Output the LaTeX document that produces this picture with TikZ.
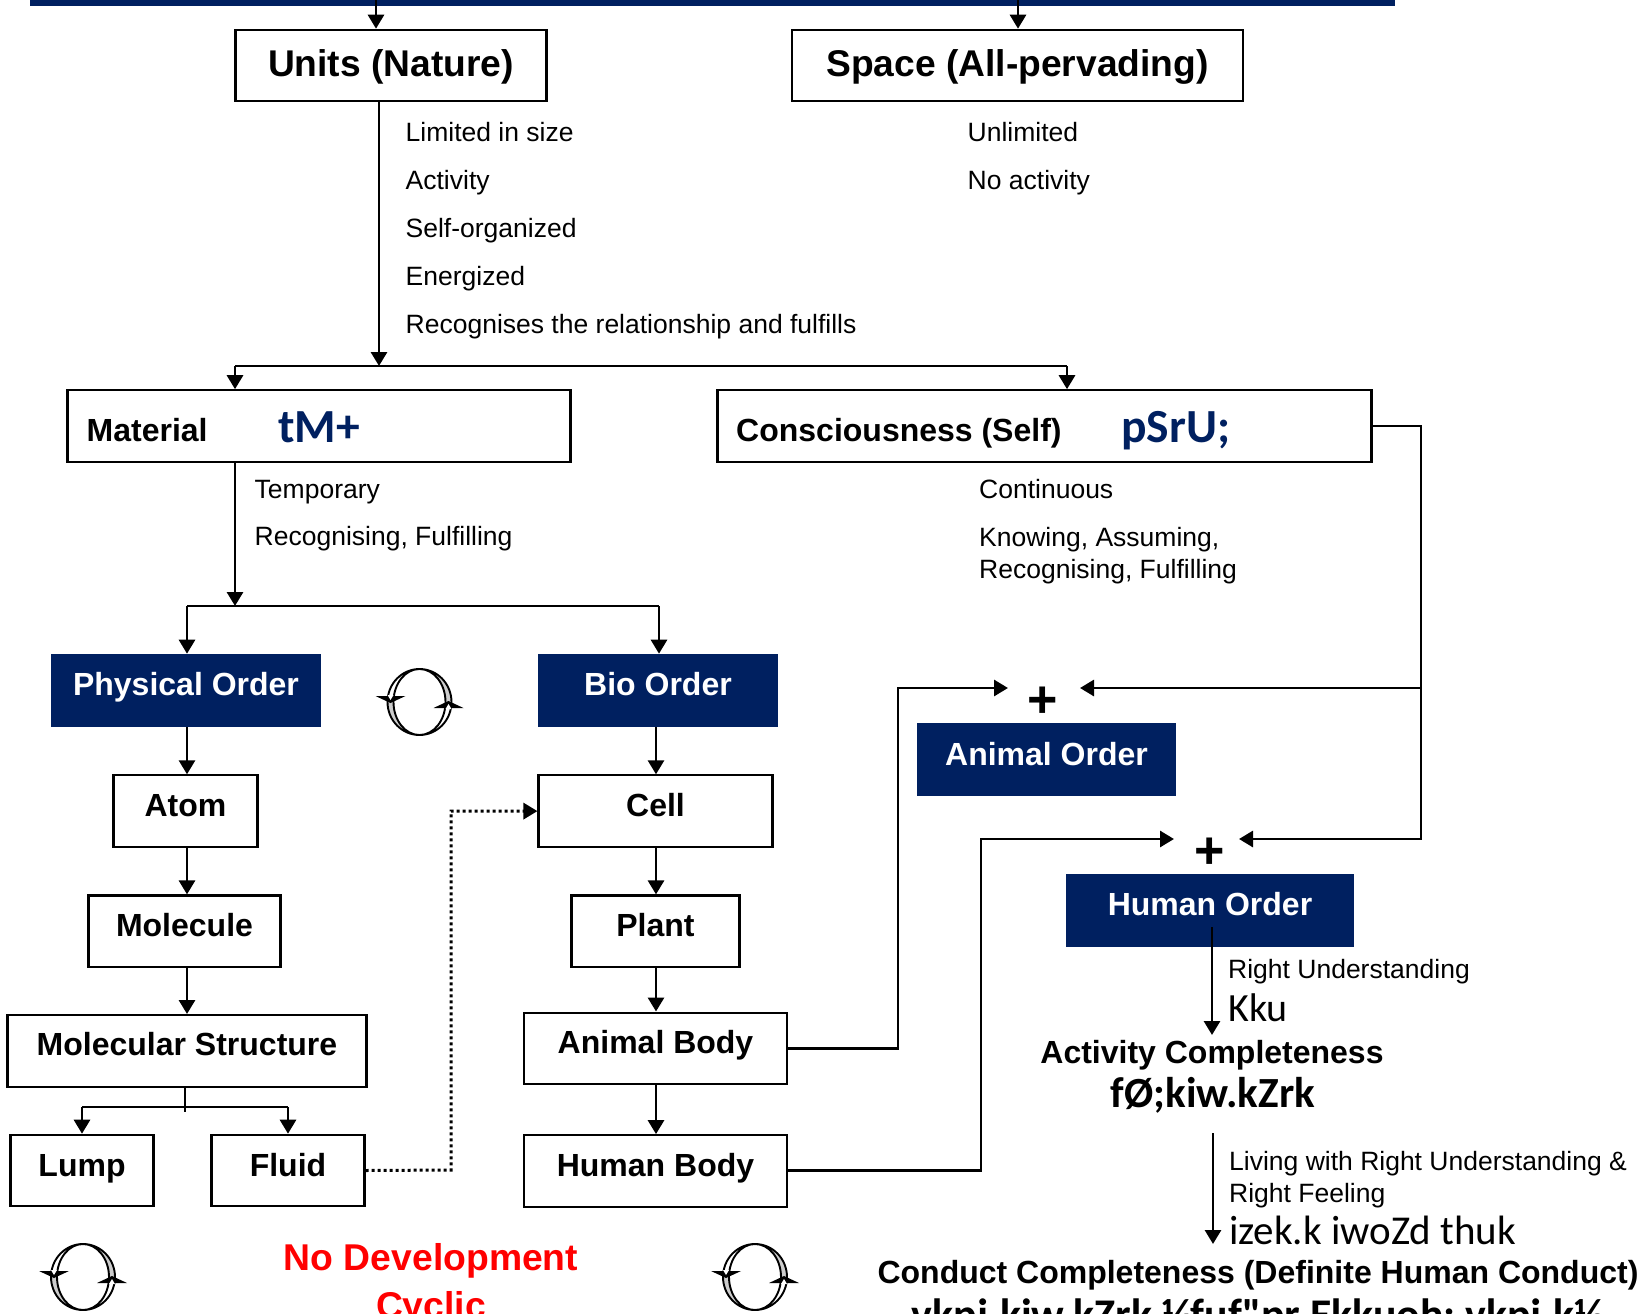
\documentclass[tikz,border=0pt]{standalone}
\usepackage{fontspec}
\setmainfont{Liberation Sans}
\newfontfamily\kruti{Carlito}
\usetikzlibrary{positioning,arrows.meta,calc}
\definecolor{navy}{RGB}{0,32,96}
\tikzset{
  box/.style={rectangle, draw=black, line width=2.1pt, inner sep=0pt, text height=41pt, text depth=30pt, minimum height=71.5pt, font=\bfseries\fontsize{32}{36}\selectfont},
  lowbox/.style={box, text height=40.5pt, text depth=30.5pt},
  ordbox/.style={box, fill=navy, draw=navy, text=white, text height=40pt, text depth=31pt},
  bigbox/.style={box, text height=47pt, text depth=24pt, font=\bfseries\fontsize{37.2}{40}\selectfont},
  note/.style={anchor=west, inner sep=0pt, text height=19pt, text depth=6pt, font=\fontsize{26.5}{32}\selectfont},
  head/.style={inner sep=0pt, font=\bfseries\fontsize{32}{36}\selectfont},
  plus/.style={inner sep=0pt, font=\bfseries\fontsize{52}{54}\selectfont},
  nav/.style={anchor=base west, inner sep=0pt, text=navy, font=\kruti\bfseries\fontsize{47.5}{50}\selectfont},
  arr/.style={-{Triangle[length=14pt,width=16pt]}, line width=2.9pt},
  lin/.style={line width=2.9pt},
  node distance=47pt
}
% cycle sign, drawn round its centre
\tikzset{
  cyc/.pic={
    \fill[white] (0,0) ellipse (32 and 33);
    \begin{scope}
      \clip (0,-34) rectangle (34,0) (-34,0) rectangle (0,34);
      \fill[black!20,even odd rule] (0,0) ellipse (32 and 33) (0,0) ellipse (26 and 33);
    \end{scope}
    \draw[line width=1.9pt] (0,0) ellipse (32 and 33) (0,0) ellipse (26 and 33);
    \fill (-44,-6) -- (-14,-6) -- (-29,1) -- cycle;
    \fill[white] (-32,-7) -- (-26,-7) -- (-29,-2) -- cycle;
    \fill (14,6) -- (44,6) -- (29,-1) -- cycle;
    \fill[white] (26,7) -- (32,7) -- (29,2) -- cycle;
  }
}
\begin{document}
\begin{tikzpicture}[x=1pt,y=-1pt]
\useasboundingbox (0,0) rectangle (1644,1314);
\clip (0,0) rectangle (1644,1314);
\fill[navy] (30,0) rectangle (1395,6);
\coordinate (topa) at (376,0);
\coordinate (topb) at (1018,0);
\node[bigbox, minimum width=311pt] (units) at (391,65.5) {Units (Nature)};
\node[bigbox, minimum width=451pt] (space) at (1017.5,65.5) {Space (All-pervading)};
\draw[arr] (topa) -- (topa |- units.north);
\draw[arr] (topb) -- (topb |- space.north);
% lists under the two units
\node[note] (lim) at (405.5,135) {Limited in size};
\node[note, below=48pt of lim.west, anchor=west] (act) {Activity};
\node[note, below=48pt of act.west, anchor=west] (self) {Self-organized};
\node[note, below=48pt of self.west, anchor=west] (ener) {Energized};
\node[note, below=48pt of ener.west, anchor=west] (rec) {Recognises the relationship and fulfills};
\node[note] (unl) at (967.5,135) {Unlimited};
\node[note, below=48pt of unl.west, anchor=west] (noact) {No activity};
% material and self
\node[box, minimum width=503pt] (material) at (319,426) {};
\node[box, minimum width=654pt] (cons) at (1044.5,426) {};
\node[head, anchor=base west] (mattext) at (86.5,441) {Material};
\node[nav] (mathin) at (278,442) {tM+};
\node[head, anchor=base west] (constext) at (736,441) {Consciousness (Self)};
\node[nav] (conshin) at (1121,442) {pSrU;};
\coordinate (unitsdown) at (379,366);
\coordinate (matin) at (235,366);
\coordinate (consin) at (1067,366);
\draw[arr] ([xshift=-12pt]units.south) -- (unitsdown);
\draw[lin] (matin) -- (consin);
\draw[arr] (matin) -- (matin |- material.north);
\draw[arr] (consin) -- (consin |- cons.north);
\node[note] (temp) at (254.5,492) {Temporary};
\node[note] (recf) at (254.5,539) {Recognising, Fulfilling};
\node[note] (cont) at (979,492) {Continuous};
\node[note] (know) at (979,540) {Knowing, Assuming,};
\node[note] (recg) at (979,572) {Recognising, Fulfilling};
% orders
\node[ordbox, minimum width=268pt] (physical) at (186,690.5) {Physical Order};
\node[ordbox, minimum width=238pt] (bio) at (658,690.5) {Bio Order};
\coordinate (matdown) at (235,606);
\coordinate (physin) at (187,606);
\coordinate (bioin) at (659,606);
\draw[arr] (material.south -| matdown) -- (matdown);
\draw[lin] (physin) -- (bioin);
\draw[arr] (physin) -- (physin |- physical.north);
\draw[arr] (bioin) -- (bioin |- bio.north);
% left column
\node[box, minimum width=144pt, below=47pt of physical, xshift=-.5pt] (atom) {Atom};
\node[lowbox, minimum width=192pt, below=46.5pt of atom, xshift=-1pt] (molecule) {Molecule};
\node[lowbox, minimum width=359pt, below=46pt of molecule, xshift=2.5pt] (struct) {Molecular Structure};
\node[box, minimum width=143pt] (lump) at (82,1170.5) {Lump};
\node[box, minimum width=153pt] (fluid) at (288,1170.5) {Fluid};
\draw[arr] (physical.south -| 187,0) -- (atom.north -| 187,0);
\draw[arr] (atom.south -| 187,0) -- (molecule.north -| 187,0);
\draw[arr] (molecule.south -| 187,0) -- (struct.north -| 187,0);
\coordinate (split) at (185,1107);
\draw[line width=1.4pt] (struct.south -| split) -- ++(0,24);
\draw[lin] (lump |- split) -- (fluid |- split);
\draw[arr] (lump |- split) -- (lump.north);
\draw[arr] (fluid |- split) -- (fluid.north);
% right column
\node[box, minimum width=234pt, below=47pt of bio, xshift=-2.5pt] (cell) {Cell};
\node[lowbox, minimum width=168pt, below=46.5pt of cell] (plant) {Plant};
\node[lowbox, minimum width=263pt, below=43.5pt of plant] (animalb) {Animal Body};
\node[box, minimum width=263pt, below=49pt of animalb] (humanb) {Human Body};
\draw[arr] (bio.south -| 656,0) -- (cell.north -| 656,0);
\draw[arr] (cell.south -| 656,0) -- (plant.north -| 656,0);
\draw[arr] (plant.south -| 656,0) -- (animalb.north -| 656,0);
\draw[arr] ([yshift=2pt]animalb.south -| 656,0) -- (humanb.north -| 656,0);
\draw[-{Triangle[length=14pt,width=16pt]}, line width=3pt, dash pattern=on 3pt off 3pt] (fluid.east) -- (451,1170) |- (cell.west);
% animal and human order
\node[ordbox, minimum width=256pt, text height=41pt, text depth=30pt] (animalo) at (1046.5,759.5) {Animal Order};
\node[ordbox, minimum width=286pt] (humano) at (1210,910.5) {Human Order};
\node[plus] (plusa) at (1042.5,702) {+};
\node[plus] (plush) at (1209.5,853) {+};
\coordinate (tipa) at (1008,688);
\coordinate (tipb) at (1080,688);
\coordinate (tipc) at (1174,839);
\coordinate (tipd) at (1239,839);
\coordinate (rail) at (1421,688);
\draw[lin] (cons.east) -| (rail);
\draw[arr] (rail) -- (tipb);
\draw[arr] (rail) |- (tipd);
\draw[arr] (animalb.east) -| (898,688) -- (tipa);
\draw[arr] (humanb.east) -| (981,839) -- (tipc);
% human order outcomes
\node[note] (ru) at (1228,972) {Right Understanding};
\node[anchor=base west, inner sep=0pt, font=\kruti\fontsize{40}{42}\selectfont] (kku) at (1228,1021) {Kku};
\node[head] (actc) at (1212,1055) {Activity Completeness};
\node[anchor=base, inner sep=0pt, font=\kruti\bfseries\fontsize{43}{45}\selectfont] (activ) at (1213,1107) {fØ;kiw.kZrk};
\coordinate (hostart) at (1212,927);
\coordinate (acttip) at (1212,1035);
\draw[arr] (hostart) -- (acttip);
\coordinate (livestart) at (1213,1133);
\coordinate (livetip) at (1213,1244);
\draw[arr] (livestart) -- (livetip);
\node[note] (liv) at (1229,1164) {Living with Right Understanding \&};
\node[note] (rfe) at (1229,1196) {Right Feeling};
\node[anchor=base west, inner sep=0pt, font=\kruti\fontsize{41}{43}\selectfont] (prem) at (1229,1244) {izek.k iwoZd thuk};
\node[head] (conc) at (1258,1275) {Conduct Completeness (Definite Human Conduct)};
\node[anchor=base, inner sep=0pt, font=\kruti\bfseries\fontsize{43.8}{47}\selectfont] (conh) at (1258.5,1329) {vkpj.kiw.kZrk ¼fuf"pr Ekkuoh; vkpj.k½};
% bottom
\node[inner sep=0pt, text=red, font=\bfseries\fontsize{37.3}{40}\selectfont] (nodev) at (431,1261) {No Development};
\node[inner sep=0pt, text=red, below=13pt of nodev, font=\bfseries\fontsize{37.3}{40}\selectfont] (cyclic) {Cyclic};
\pic at (419.5,702) {cyc};
\pic at (83,1277) {cyc};
\pic at (755,1277) {cyc};
\end{tikzpicture}
\end{document}
